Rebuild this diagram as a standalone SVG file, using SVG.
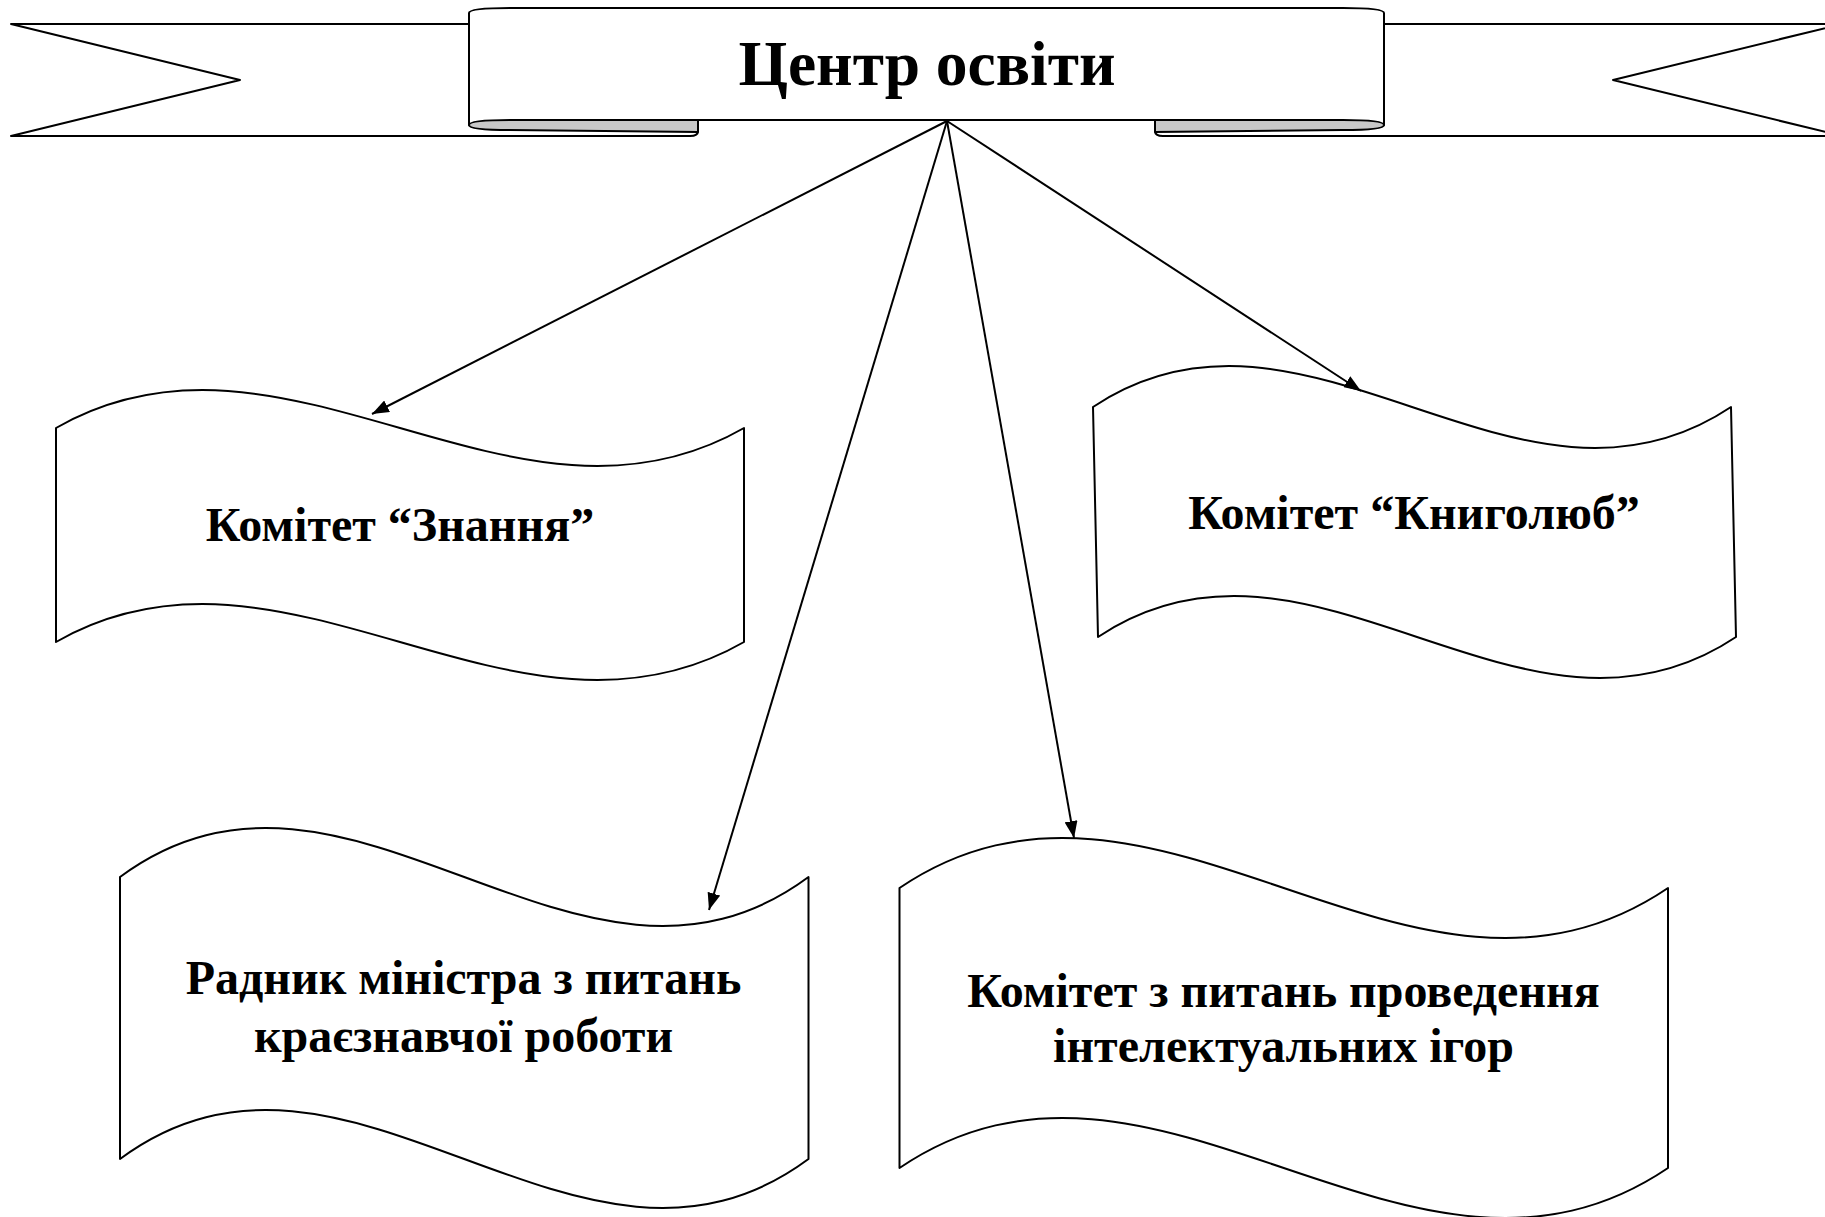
<svg xmlns="http://www.w3.org/2000/svg" width="1825" height="1217" viewBox="0 0 1825 1217">
<defs>
<style>
.ln{fill:none;stroke:#000;stroke-width:2}
.shape{fill:#fff;stroke:#000;stroke-width:2;stroke-linejoin:round}
.fold{fill:#c8c8c8;stroke:#000;stroke-width:2;stroke-linejoin:round}
.t{font-family:"Liberation Serif","Times New Roman",serif;font-weight:bold;fill:#000;text-anchor:middle}
.tb{font-size:48px}
.tt{font-size:63.5px}
</style>
<marker id="ah" markerUnits="userSpaceOnUse" markerWidth="17" markerHeight="13" refX="17" refY="6.5" orient="auto">
<path d="M0,0 L17,6.5 L0,13 Z" fill="#000"/>
</marker>
</defs>
<rect width="1825" height="1217" fill="#fff"/>
<g id="banner">
<path class="shape" d="M11,24 L698,24 L698,131 Q698,136 690,136 L11,136 L240,80 Z"/>
<path class="shape" d="M1842,24 L1155,24 L1155,131 Q1155,136 1163,136 L1842,136 L1613,80 Z"/>
<path class="fold" d="M469,125 Q469,130 510,130 L698,132 L698,120 L469,120 Z"/>
<path class="fold" d="M1384,125 Q1384,130 1343,130 L1155,132 L1155,120 L1384,120 Z"/>
<path class="shape" d="M469,125 L469,13 Q469,8 510,8 L1343,8 Q1384,8 1384,13 L1384,125 Q1384,120 1343,120 L510,120 Q469,120 469,125 Z"/>
<text class="t tt" x="927" y="85">Центр освіти</text>
</g>
<g id="node-znannia">
<path class="shape" d="M56,428 C285.3,296.4 514.7,559.6 744,428 L744,642 C514.7,773.6 285.3,510.4 56,642 Z"/>
<text class="t tb" x="400" y="541">Комітет “Знання”</text>
</g>
<g id="node-knyholiub">
<path class="shape" d="M1093,407 C1305.7,265 1518.3,549 1731,407 L1736,637 C1523.3,779 1310.7,495 1098,637 Z"/>
<text class="t tb" x="1414" y="529">Комітет “Книголюб”</text>
</g>
<g id="node-radnyk">
<path class="shape" d="M120,877 C349.5,707.3 579,1046.7 808.5,877 L808.5,1159 C579,1328.7 349.5,989.3 120,1159 Z"/>
<text class="t tb" x="463.5" y="994">Радник міністра з питань</text>
<text class="t tb" x="463.5" y="1052">краєзнавчої роботи</text>
</g>
<g id="node-ihry">
<path class="shape" d="M899.5,888 C1155.7,714.8 1411.8,1061.2 1668,888 L1668,1168 C1411.8,1341.2 1155.7,994.8 899.5,1168 Z"/>
<text class="t tb" x="1283.5" y="1007">Комітет з питань проведення</text>
<text class="t tb" x="1283.5" y="1062">інтелектуальних ігор</text>
</g>
<g id="connectors">
<line class="ln" x1="947" y1="121" x2="372" y2="414" marker-end="url(#ah)"/>
<line class="ln" x1="947" y1="121" x2="709" y2="910" marker-end="url(#ah)"/>
<line class="ln" x1="947" y1="121" x2="1074" y2="838" marker-end="url(#ah)"/>
<line class="ln" x1="947" y1="121" x2="1361" y2="391" marker-end="url(#ah)"/>
</g>
</svg>
